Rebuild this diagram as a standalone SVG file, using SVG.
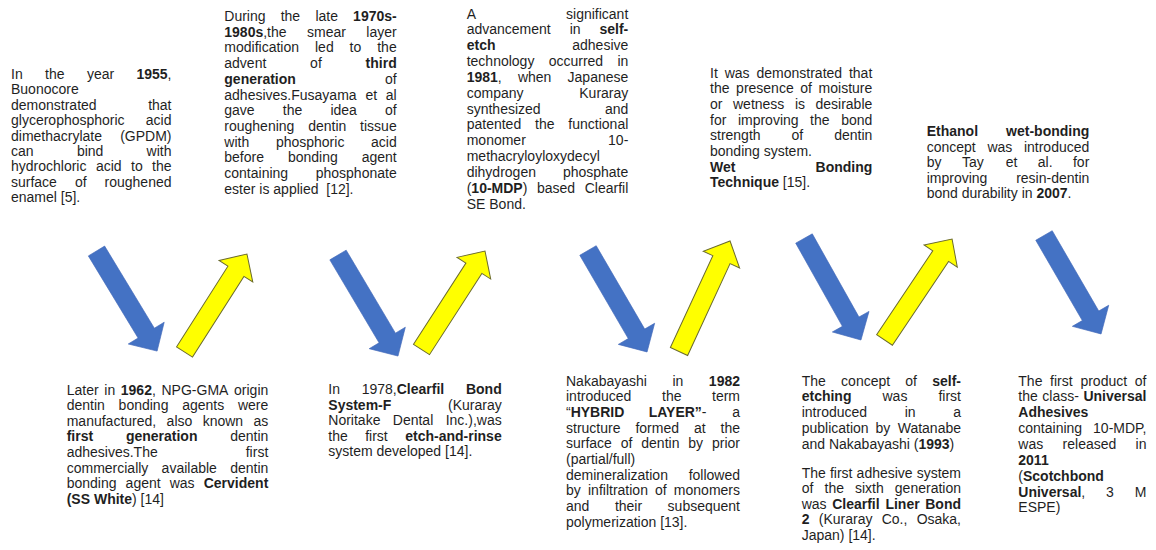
<svg xmlns="http://www.w3.org/2000/svg" width="1156" height="550" viewBox="0 0 1156 550">
<style>
.t{font-family:"Liberation Sans",Arial,sans-serif;font-size:14px;fill:#1f1f1f}
.b{font-weight:bold}
.e{text-anchor:end}
.blue{fill:#4472C4;stroke:#4068b8;stroke-width:0.6}
.yel{fill:#FFFF00;stroke:#6b6b2e;stroke-width:1}
</style>
<rect width="1156" height="550" fill="#ffffff"/>
<g id="connectors">
<polygon class="blue" transform="translate(96.5,251) rotate(58.8)" points="0,-9.5 96,-9.5 96,-21 117,0 96,21 96,9.5 0,9.5"/>
<polygon class="yel" transform="translate(184.5,352) rotate(-57.5)" points="0,-9.5 95.7,-9.5 95.7,-20 116.2,0 95.7,20 95.7,9.5 0,9.5"/>
<polygon class="blue" transform="translate(338,255) rotate(59.3)" points="0,-9.5 96.5,-9.5 96.5,-21 117.5,0 96.5,21 96.5,9.5 0,9.5"/>
<polygon class="yel" transform="translate(421.5,349.5) rotate(-57.2)" points="0,-9.5 96.7,-9.5 96.7,-20 117.2,0 96.7,20 96.7,9.5 0,9.5"/>
<polygon class="blue" transform="translate(588,250.5) rotate(59.8)" points="0,-9.5 96.4,-9.5 96.4,-21 117.4,0 96.4,21 96.4,9.5 0,9.5"/>
<polygon class="yel" transform="translate(679,351.5) rotate(-65.2)" points="0,-9.5 101.2,-9.5 101.2,-20 121.7,0 101.2,20 101.2,9.5 0,9.5"/>
<polygon class="blue" transform="translate(804,238.5) rotate(60.7)" points="0,-9.5 95.4,-9.5 95.4,-21 116.4,0 95.4,21 95.4,9.5 0,9.5"/>
<polygon class="yel" transform="translate(884.5,340) rotate(-56.2)" points="0,-9.5 101,-9.5 101,-20 121.5,0 101,20 101,9.5 0,9.5"/>
<polygon class="blue" transform="translate(1044,235.5) rotate(59.9)" points="0,-9.5 92.8,-9.5 92.8,-21 113.8,0 92.8,21 92.8,9.5 0,9.5"/>
</g>
<g id="n1955" class="t">
<text y="79"><tspan x="11">In</tspan><tspan x="45.1">the</tspan><tspan x="86.9">year</tspan></text><text class="e" x="171.5" y="79"><tspan class="b">1955</tspan>,</text>
<text x="11" y="94.4">Buonocore</text>
<text x="11" y="109.8">demonstrated</text><text class="e" x="171.5" y="109.8">that</text>
<text x="11" y="125.2">glycerophosphoric</text><text class="e" x="171.5" y="125.2">acid</text>
<text x="11" y="140.6">dimethacrylate</text><text class="e" x="171.5" y="140.6">(GPDM)</text>
<text y="156"><tspan x="11">can</tspan><tspan x="76.9">bind</tspan></text><text class="e" x="171.5" y="156">with</text>
<text y="171.4"><tspan x="11">hydrochloric</tspan><tspan x="95.9">acid</tspan><tspan x="131">to</tspan></text><text class="e" x="171.5" y="171.4">the</text>
<text y="186.8"><tspan x="11">surface</tspan><tspan x="74.9">of</tspan></text><text class="e" x="171.5" y="186.8">roughened</text>
<text x="11" y="202.2">enamel [5].</text>
</g>
<g id="n1970s" class="t">
<text y="21"><tspan x="224.3">During</tspan><tspan x="280.7">the</tspan><tspan x="315.4">late</tspan></text><text class="e b" x="396.7" y="21">1970s-</text>
<text y="36.7"><tspan x="224.3" class="b">1980s</tspan>,the<tspan x="307">smear</tspan></text><text class="e" x="396.7" y="36.7">layer</text>
<text y="52.4"><tspan x="224.3">modification</tspan><tspan x="315">led</tspan><tspan x="349.6">to</tspan></text><text class="e" x="396.7" y="52.4">the</text>
<text y="68.1"><tspan x="224.3">advent</tspan><tspan x="310.1">of</tspan></text><text class="e b" x="396.7" y="68.1">third</text>
<text class="b" x="224.3" y="83.8">generation</text><text class="e" x="396.7" y="83.8">of</text>
<text y="99.5"><tspan x="224.3">adhesives.Fusayama</tspan><tspan x="365.4">et</tspan></text><text class="e" x="396.7" y="99.5">al</text>
<text y="115.2"><tspan x="224.3">gave</tspan><tspan x="282.8">the</tspan><tspan x="330.4">idea</tspan></text><text class="e" x="396.7" y="115.2">of</text>
<text y="130.9"><tspan x="224.3">roughening</tspan><tspan x="308.2">dentin</tspan></text><text class="e" x="396.7" y="130.9">tissue</text>
<text y="146.6"><tspan x="224.3">with</tspan><tspan x="275.9">phosphoric</tspan></text><text class="e" x="396.7" y="146.6">acid</text>
<text y="162.3"><tspan x="224.3">before</tspan><tspan x="287.9">bonding</tspan></text><text class="e" x="396.7" y="162.3">agent</text>
<text x="224.3" y="178">containing</text><text class="e" x="396.7" y="178">phosphonate</text>
<text x="224.3" y="193.7">ester is applied&#160; [12].</text>
</g>
<g id="n1981" class="t">
<text x="466.7" y="18.5">A</text><text class="e" x="628.3" y="18.5">significant</text>
<text y="34.3"><tspan x="466.7">advancement</tspan><tspan x="569.7">in</tspan></text><text class="e b" x="628.3" y="34.3">self-</text>
<text class="b" x="466.7" y="50.2">etch</text><text class="e" x="628.3" y="50.2">adhesive</text>
<text y="66"><tspan x="466.7">technology</tspan><tspan x="548.7">occurred</tspan></text><text class="e" x="628.3" y="66">in</text>
<text y="81.8"><tspan x="466.7" class="b">1981</tspan>,<tspan x="517.9">when</tspan></text><text class="e" x="628.3" y="81.8">Japanese</text>
<text x="466.7" y="97.7">company</text><text class="e" x="628.3" y="97.7">Kuraray</text>
<text x="466.7" y="113.5">synthesized</text><text class="e" x="628.3" y="113.5">and</text>
<text y="129.3"><tspan x="466.7">patented</tspan><tspan x="535.1">the</tspan></text><text class="e" x="628.3" y="129.3">functional</text>
<text x="466.7" y="145.1">monomer</text><text class="e" x="628.3" y="145.1">10-</text>
<text x="466.7" y="161">methacryloyloxydecyl</text>
<text x="466.7" y="176.8">dihydrogen</text><text class="e" x="628.3" y="176.8">phosphate</text>
<text y="192.6"><tspan x="466.7">(</tspan><tspan class="b">10-MDP</tspan>)<tspan x="537">based</tspan></text><text class="e" x="628.3" y="192.6">Clearfil</text>
<text x="466.7" y="208.5">SE Bond.</text>
</g>
<g id="nwet" class="t">
<text y="77.5"><tspan x="710">It</tspan><tspan x="724.7">was</tspan><tspan x="756.5">demonstrated</tspan></text><text class="e" x="872.3" y="77.5">that</text>
<text y="93.2"><tspan x="710">the</tspan><tspan x="736.1">presence</tspan><tspan x="800.3">of</tspan></text><text class="e" x="872.3" y="93.2">moisture</text>
<text y="108.9"><tspan x="710">or</tspan><tspan x="733">wetness</tspan><tspan x="794.9">is</tspan></text><text class="e" x="872.3" y="108.9">desirable</text>
<text y="124.6"><tspan x="710">for</tspan><tspan x="737.9">improving</tspan><tspan x="810.1">the</tspan></text><text class="e" x="872.3" y="124.6">bond</text>
<text y="140.3"><tspan x="710">strength</tspan><tspan x="791.5">of</tspan></text><text class="e" x="872.3" y="140.3">dentin</text>
<text x="710" y="156">bonding system.</text>
<text class="b" x="710" y="171.7">Wet</text><text class="e b" x="872.3" y="171.7">Bonding</text>
<text x="710" y="187.4"><tspan class="b">Technique</tspan> [15].</text>
</g>
<g id="nethanol" class="t">
<text class="b" x="926.7" y="136">Ethanol</text><text class="e b" x="1089.3" y="136">wet-bonding</text>
<text y="151.6"><tspan x="926.7">concept</tspan><tspan x="987.4">was</tspan></text><text class="e" x="1089.3" y="151.6">introduced</text>
<text y="167.2"><tspan x="926.7">by</tspan><tspan x="961.9">Tay</tspan><tspan x="1005.7">et</tspan><tspan x="1037.8">al.</tspan></text><text class="e" x="1089.3" y="167.2">for</text>
<text x="926.7" y="182.8">improving</text><text class="e" x="1089.3" y="182.8">resin-dentin</text>
<text x="926.7" y="198.4">bond durability in <tspan class="b">2007</tspan>.</text>
</g>
<g id="n1962" class="t">
<text y="394.5"><tspan x="66.7">Later</tspan><tspan x="104.3">in</tspan><tspan x="120.8" class="b">1962</tspan>,<tspan x="161.5">NPG-GMA</tspan></text><text class="e" x="268.3" y="394.5">origin</text>
<text y="410.1"><tspan x="66.7">dentin</tspan><tspan x="118.6">bonding</tspan><tspan x="182.2">agents</tspan></text><text class="e" x="268.3" y="410.1">were</text>
<text y="425.7"><tspan x="66.7">manufactured,</tspan><tspan x="166.6">also</tspan><tspan x="202.7">known</tspan></text><text class="e" x="268.3" y="425.7">as</text>
<text class="b" y="441.3"><tspan x="66.7">first</tspan><tspan x="125.9">generation</tspan></text><text class="e" x="268.3" y="441.3">dentin</text>
<text x="66.7" y="456.9">adhesives.The</text><text class="e" x="268.3" y="456.9">first</text>
<text y="472.5"><tspan x="66.7">commercially</tspan><tspan x="161.6">available</tspan></text><text class="e" x="268.3" y="472.5">dentin</text>
<text y="488.1"><tspan x="66.7">bonding</tspan><tspan x="125.6">agent</tspan><tspan x="169.7">was</tspan></text><text class="e b" x="268.3" y="488.1">Cervident</text>
<text x="66.7" y="503.7"><tspan class="b">(SS White</tspan>) [14]</text>
</g>
<g id="n1978" class="t">
<text y="394"><tspan x="328.3">In</tspan><tspan x="361.7">1978,</tspan><tspan class="b">Clearfil</tspan></text><text class="e b" x="501.7" y="394">Bond</text>
<text class="b" x="328.3" y="409.6">System-F</text><text class="e" x="501.7" y="409.6">(Kuraray</text>
<text y="425.2"><tspan x="328.3">Noritake</tspan><tspan x="392.8">Dental</tspan></text><text class="e" x="501.7" y="425.2">Inc.),was</text>
<text y="440.8"><tspan x="328.3">the</tspan><tspan x="365.2">first</tspan></text><text class="e b" x="501.7" y="440.8">etch-and-rinse</text>
<text x="328.3" y="456.4">system developed [14].</text>
</g>
<g id="n1982" class="t">
<text y="385.5"><tspan x="566">Nakabayashi</tspan><tspan x="672.5">in</tspan></text><text class="e b" x="740" y="385.5">1982</text>
<text y="401.2"><tspan x="566">introduced</tspan><tspan x="662">the</tspan></text><text class="e" x="740" y="401.2">term</text>
<text y="416.8"><tspan x="566">“</tspan><tspan class="b">HYBRID</tspan><tspan x="648.7" class="b">LAYER”</tspan>-</text><text class="e" x="740" y="416.8">a</text>
<text y="432.5"><tspan x="566">structure</tspan><tspan x="635.4">formed</tspan><tspan x="693.9">at</tspan></text><text class="e" x="740" y="432.5">the</text>
<text y="448.2"><tspan x="566">surface</tspan><tspan x="620.8">of</tspan><tspan x="641.3">dentin</tspan><tspan x="688.3">by</tspan></text><text class="e" x="740" y="448.2">prior</text>
<text x="566" y="463.8">(partial/full)</text>
<text x="566" y="479.5">demineralization</text><text class="e" x="740" y="479.5">followed</text>
<text y="495.2"><tspan x="566">by</tspan><tspan x="588">infiltration</tspan><tspan x="655">of</tspan></text><text class="e" x="740" y="495.2">monomers</text>
<text y="510.9"><tspan x="566">and</tspan><tspan x="614.9">their</tspan></text><text class="e" x="740" y="510.9">subsequent</text>
<text x="566" y="526.5">polymerization [13].</text>
</g>
<g id="n1993" class="t">
<text y="385.5"><tspan x="801.7">The</tspan><tspan x="841.1">concept</tspan><tspan x="905.3">of</tspan></text><text class="e b" x="961" y="385.5">self-</text>
<text y="401.3"><tspan x="801.7" class="b">etching</tspan><tspan x="882.5">was</tspan></text><text class="e" x="961" y="401.3">first</text>
<text y="417"><tspan x="801.7">introduced</tspan><tspan x="904.7">in</tspan></text><text class="e" x="961" y="417">a</text>
<text y="432.8"><tspan x="801.7">publication</tspan><tspan x="875.5">by</tspan></text><text class="e" x="961" y="432.8">Watanabe</text>
<text x="801.7" y="448.5">and Nakabayashi (<tspan class="b">1993</tspan>)</text>
<text y="477.5"><tspan x="801.7">The</tspan><tspan x="829.9">first</tspan><tspan x="856.6">adhesive</tspan></text><text class="e" x="961" y="477.5">system</text>
<text y="493"><tspan x="801.7">of</tspan><tspan x="824.5">the</tspan><tspan x="855">sixth</tspan></text><text class="e" x="961" y="493">generation</text>
<text y="508.5"><tspan x="801.7">was</tspan><tspan x="832.2" class="b">Clearfil</tspan><tspan x="885.4" class="b">Liner</tspan></text><text class="e b" x="961" y="508.5">Bond</text>
<text y="524"><tspan x="801.7" class="b">2</tspan><tspan x="818.8">(Kuraray</tspan><tspan x="881.7">Co.,</tspan></text><text class="e" x="961" y="524">Osaka,</text>
<text x="801.7" y="539.5">Japan) [14].</text>
</g>
<g id="n2011" class="t">
<text y="385.5"><tspan x="1018.3">The</tspan><tspan x="1050.1">first</tspan><tspan x="1080.4">product</tspan></text><text class="e" x="1146.5" y="385.5">of</text>
<text y="401.4"><tspan x="1018.3">the</tspan><tspan x="1042.3">class-</tspan></text><text class="e b" x="1146.5" y="401.4">Universal</text>
<text class="b" x="1018.3" y="417.2">Adhesives</text>
<text x="1018.3" y="433.1">containing</text><text class="e" x="1146.5" y="433.1">10-MDP,</text>
<text y="448.9"><tspan x="1018.3">was</tspan><tspan x="1062.6">released</tspan></text><text class="e" x="1146.5" y="448.9">in</text>
<text class="b" x="1018.3" y="464.8">2011</text>
<text x="1018.3" y="480.6">(<tspan class="b">Scotchbond</tspan></text>
<text y="496.5"><tspan x="1018.3" class="b">Universal</tspan>,<tspan x="1106.1">3</tspan></text><text class="e" x="1146.5" y="496.5">M</text>
<text x="1018.3" y="512.3">ESPE)</text>
</g>
</svg>
